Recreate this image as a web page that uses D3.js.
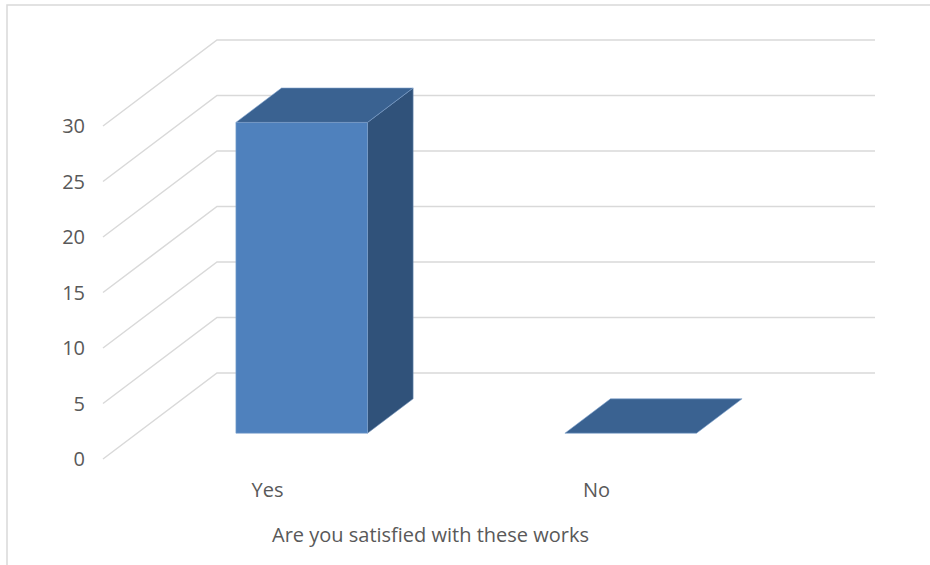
<!DOCTYPE html>
<html><head><meta charset="utf-8">
<script src="https://cdn.jsdelivr.net/npm/d3@7/dist/d3.min.js"></script>
<style>body{margin:0;background:#fff}svg{display:block}</style>
</head><body>
<svg id="c" width="930" height="565"></svg>
<script>
const categories = ["Yes", "No"];
const values = [28, 0];
const yTicks = [0, 5, 10, 15, 20, 25, 30];
const axisTitle = "Are you satisfied with these works";

const svg = d3.select("#c");
const font = "'Open Sans', sans-serif";
const textColor = "#595959";
const gridColor = "#d9d9d9";

// chart border
svg.append("rect").attr("x", 7).attr("y", 5).attr("width", 940).attr("height", 580)
  .attr("fill", "none").attr("stroke", gridColor).attr("stroke-width", 1.5);

// 3D projection: depth offset for full floor depth
const DX = 114, DY = -86;
const y = d3.scaleLinear().domain([0, 30]).range([459, 126]);
const x = d3.scaleBand().domain(categories).range([103, 761]).paddingInner(0.6).paddingOuter(0.3);
const P = (px, v, z) => [px + z * DX, y(v) + z * DY];

// gridlines: side wall + back wall
const gl = svg.append("g");
yTicks.forEach(t => {
  const a = P(103, t, 0), b = P(103, t, 1), c = P(761, t, 1);
  gl.append("polyline").attr("points", [a, b, c].map(p => p.join(",")).join(" "))
    .attr("fill", "none").attr("stroke", gridColor).attr("stroke-width", 1.5);
});

// y tick labels
svg.append("g").selectAll("text").data(yTicks).join("text")
  .attr("x", 85).attr("y", d => y(d)).attr("dy", "0.35em")
  .attr("text-anchor", "end").attr("font-family", font).attr("font-size", 20)
  .attr("fill", textColor).text(d => d);

// bars
const z0 = 0.3, z1 = 0.7;
const poly = pts => pts.map(p => p.join(",")).join(" ");
const bars = svg.append("g");
categories.forEach((c, i) => {
  const v = values[i];
  const x0 = x(c), x1 = x(c) + x.bandwidth();
  const g = bars.append("g");
  if (v > 0) {
    // side face
    g.append("polygon").attr("points", poly([P(x1, 0, z0), P(x1, 0, z1), P(x1, v, z1), P(x1, v, z0)]))
      .attr("fill", "#30527a").attr("stroke", "#6f8fb5").attr("stroke-width", 0.6);
    // front face
    g.append("polygon").attr("points", poly([P(x0, 0, z0), P(x1, 0, z0), P(x1, v, z0), P(x0, v, z0)]))
      .attr("fill", "#4f81bd").attr("stroke", "#7fa3cf").attr("stroke-width", 0.6);
  }
  // top face
  g.append("polygon").attr("points", poly([P(x0, v, z0), P(x1, v, z0), P(x1, v, z1), P(x0, v, z1)]))
    .attr("fill", "#3a6291").attr("stroke", "#7fa3cf").attr("stroke-width", 0.6);
});

// category labels
svg.append("g").selectAll("text").data(categories).join("text")
  .attr("x", d => x(d) + x.bandwidth() / 2).attr("y", 497)
  .attr("text-anchor", "middle").attr("font-family", font).attr("font-size", 20)
  .attr("fill", textColor).text(d => d);

// axis title
svg.append("text").attr("x", 430.5).attr("y", 542).attr("text-anchor", "middle")
  .attr("font-family", font).attr("font-size", 20).attr("fill", textColor).text(axisTitle);
</script>
</body></html>
